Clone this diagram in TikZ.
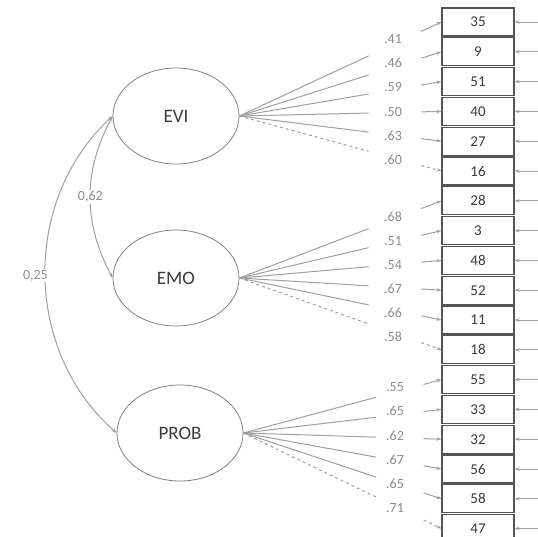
\documentclass[tikz,border=0pt]{standalone}
\usepackage{fontspec}
\setmainfont{Carlito}
\usepackage{tikz}
\usetikzlibrary{shapes.geometric,arrows.meta}
\definecolor{linegray}{HTML}{A0A0A0}
\definecolor{labgray}{HTML}{8C8C8C}
\definecolor{ellgray}{HTML}{808080}
\definecolor{boxgray}{HTML}{555555}
\definecolor{txtgray}{HTML}{3A3A3A}

\begin{document}
\begin{tikzpicture}[x=1pt,y=-1pt,
    lat/.style={ellipse, draw=ellgray, thick, minimum width=126pt, minimum height=96pt, inner sep=0pt, text=txtgray, font=\fontsize{19}{20}\selectfont},
    ind/.style={rectangle, draw=boxgray, line width=1.1pt, minimum width=72pt, minimum height=28pt, inner sep=0pt, text=txtgray, font=\fontsize{15}{16}\selectfont},
    lbl/.style={text=labgray, inner sep=1pt, font=\fontsize{14}{15}\selectfont},
    load/.style={draw=linegray, line width=1pt},
    tip/.style={draw=linegray, line width=1pt, -{Stealth[length=5pt,width=3.5pt]}},
    cov/.style={draw=linegray, line width=1pt, {Stealth[length=5pt,width=3.5pt]}-{Stealth[length=5pt,width=3.5pt]}}]
  \useasboundingbox (0,0) rectangle (538,536);

  % latent factors
  \node[lat] (evi) at (176,116) {EVI};
  \node[lat] (emo) at (176,278) {EMO};
  \node[lat] (prob) at (180,433) {PROB};

  % indicators and their error arrows
  \foreach \v [count=\k from 0] in {35,9,51,40,27,16,28,3,48,52,11,18,55,33,32,56,58,47} {
    \node[ind] (b\k) at (478,{22+29.8*\k}) {\v};
    \coordinate (e\k) at (540,{22+29.8*\k});
    \draw[tip] (e\k) -- (b\k.east);
  }

  % loadings
  \foreach \lat/\g/\a/\b in {evi/0/0.64/0.9, emo/1/0.64/0.9, prob/2/0.67/0.91} {
    \foreach \i/\ls in {0/solid,1/solid,2/solid,3/solid,4/solid,5/dashed} {
      \pgfmathtruncatemacro\k{6*\g+\i}
      \path (\lat.east) -- (b\k.west) coordinate[pos=\a] (p\k) coordinate[pos=\b] (q\k);
      \draw[load,\ls] (\lat.east) -- (p\k);
      \draw[tip,\ls] (q\k) -- (b\k.west);
    }
  }

  % loading values
  \foreach \t [count=\i from 0] in {.41,.46,.59,.50,.63,.60}
    \node[lbl] (la\i) at (393,{39+24.2*\i}) {\t};
  \foreach \t [count=\i from 0] in {.68,.51,.54,.67,.66,.58}
    \node[lbl] (lb\i) at (393,{217+24*\i}) {\t};
  \foreach \t [count=\i from 0] in {.55,.65,.62,.67,.65,.71}
    \node[lbl] (lc\i) at (395,{387+24.2*\i}) {\t};

  % correlations
  \draw[cov] (evi.west) to[bend right=28] node[lbl, fill=white] (r1) {0,62} (emo.west);
  \draw[cov] (evi.west) to[bend right=48] node[lbl, fill=white, xshift=-10pt] (r2) {0,25} (prob.west);
\end{tikzpicture}
\end{document}
